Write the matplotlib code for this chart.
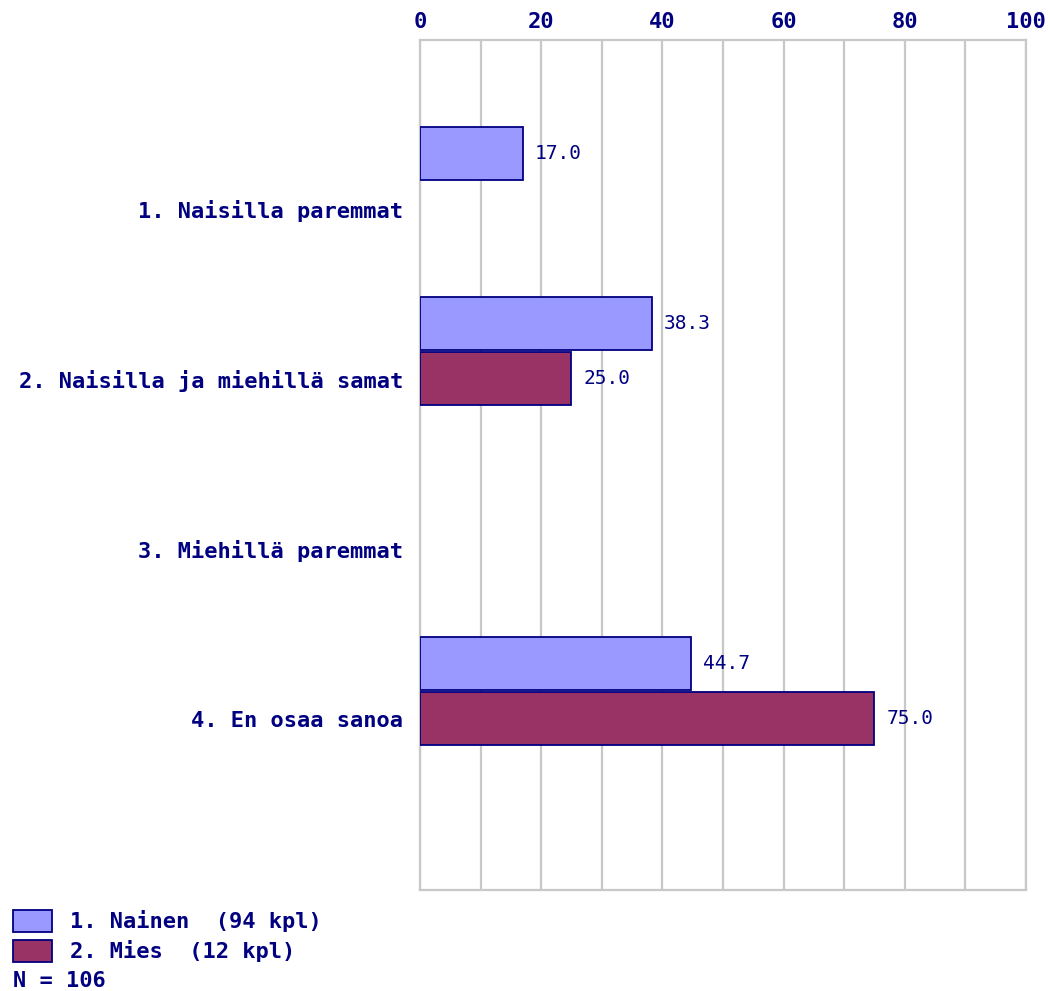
import numpy as np
import matplotlib.pyplot as plt
from matplotlib.patches import Rectangle

categories = ['1. Naisilla paremmat', '2. Naisilla ja miehillä samat',
              '3. Miehillä paremmat', '4. En osaa sanoa']
nainen = [17.0, 38.3, 0.0, 44.7]
mies = [0.0, 25.0, 0.0, 75.0]
series_labels = ['1. Nainen  (94 kpl)', '2. Mies  (12 kpl)']
n_text = 'N = 106'
x_ticks = [0, 20, 40, 60, 80, 100]

navy = '#000080'
c_nainen = '#9999ff'
c_mies = '#993366'
grid_c = '#c8c8c8'
mono = 'DejaVu Sans Mono'
fs = 15.8

fig = plt.figure(figsize=(10.5, 9.91), dpi=100)
ax = fig.add_axes([0.4, 0.102, 0.577, 0.8576])

y = np.arange(len(categories))
h = 0.31
for i in y:
    if nainen[i] > 0:
        ax.barh(i - 0.162, nainen[i], height=h, color=c_nainen,
                edgecolor=navy, linewidth=1.3, zorder=3)
        ax.text(nainen[i] + 2, i - 0.162, f'{nainen[i]:.1f}', va='center',
                ha='left', color=navy, fontsize=14, family=mono)
    if mies[i] > 0:
        ax.barh(i + 0.162, mies[i], height=h, color=c_mies,
                edgecolor=navy, linewidth=1.3, zorder=3)
        ax.text(mies[i] + 2, i + 0.162, f'{mies[i]:.1f}', va='center',
                ha='left', color=navy, fontsize=14, family=mono)

ax.set_xlim(0, 100)
ax.set_ylim(4.171, -0.829)
ax.xaxis.tick_top()
ax.set_xticks(x_ticks)
ax.set_xticks(np.arange(10, 100, 20), minor=True)
ax.grid(axis='x', which='both', color=grid_c, linewidth=1.6, zorder=0)
ax.set_xticklabels([str(t) for t in x_ticks], fontsize=fs, family=mono,
                   fontweight='bold', color=navy)
ax.tick_params(axis='x', which='both', length=0, pad=6)
ax.set_yticks(y + 0.165)
ax.set_yticklabels(categories, fontsize=fs, family=mono, fontweight='bold',
                   color=navy)
ax.tick_params(axis='y', length=0, pad=12)
for s in ax.spines.values():
    s.set_color(grid_c)
    s.set_linewidth(1.6)

# legend drawn in figure pixels
W, H = 1050, 991
boxes = [(910, c_nainen), (940, c_mies)]
for (top, col), lab in zip(boxes, series_labels):
    fig.add_artist(Rectangle((13 / W, 1 - (top + 22) / H), 39 / W, 22 / H,
                             transform=fig.transFigure, facecolor=col,
                             edgecolor=navy, linewidth=1.3))
    fig.text(70 / W, 1 - (top + 11) / H, lab, va='center', ha='left',
             fontsize=fs, family=mono, fontweight='bold', color=navy)
fig.text(13 / W, 1 - 981 / H, n_text, va='center', ha='left', fontsize=fs,
         family=mono, fontweight='bold', color=navy)

fig.savefig('out.png', dpi=100)
